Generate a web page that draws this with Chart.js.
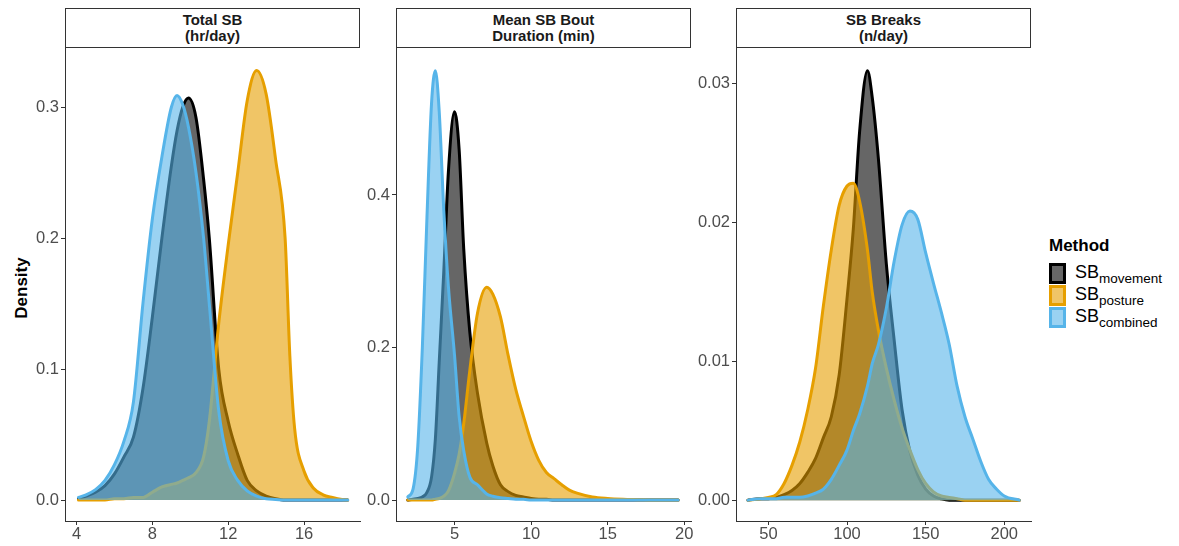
<!DOCTYPE html>
<html><head><meta charset="utf-8">
<script src="https://cdn.jsdelivr.net/npm/chart.js@4.4.1/dist/chart.umd.min.js"></script>
<style>
body{margin:0;background:#fff;width:1179px;height:546px;overflow:hidden;position:relative;font-family:"Liberation Sans",Arial,sans-serif;}
.strip{position:absolute;top:8px;height:40px;width:295px;box-sizing:border-box;border:1px solid #333;text-align:center;font-weight:bold;font-size:15px;line-height:16px;color:#1a1a1a;display:flex;flex-direction:column;justify-content:center;}
canvas{position:absolute;top:47px;}
#ytitle{position:absolute;left:22px;top:288px;transform:translate(-50%,-50%) rotate(-90deg);font-weight:bold;font-size:17px;color:#000;white-space:nowrap;}
#legend{position:absolute;left:1045px;top:236px;color:#000;}
#legend .ttl{position:absolute;left:4px;top:0;font-weight:bold;font-size:17px;white-space:nowrap;}
.key{position:absolute;left:4px;width:17px;height:21px;box-sizing:border-box;border:3px solid;}
.lab{position:absolute;left:30px;font-size:18px;white-space:nowrap;}
.lab sub{font-size:13.5px;vertical-align:-5px;line-height:0;}
</style></head>
<body>
<div class="strip" style="left:65px"><div>Total SB</div><div>(hr/day)</div></div>
<div class="strip" style="left:396px"><div>Mean SB Bout</div><div>Duration (min)</div></div>
<div class="strip" style="left:736px"><div>SB Breaks</div><div>(n/day)</div></div>
<div id="ytitle">Density</div>
<canvas id="c1" width="374" height="499" style="left:0px"></canvas>
<canvas id="c2" width="345" height="499" style="left:360px"></canvas>
<canvas id="c3" width="355" height="499" style="left:690px"></canvas>
<div id="legend">
  <div class="ttl">Method</div>
  <div class="key" style="top:27px;border-color:#000;background:rgba(0,0,0,0.6)"></div>
  <div class="lab" style="top:26px">SB<sub>movement</sub></div>
  <div class="key" style="top:49px;border-color:#E69F00;background:rgba(230,159,0,0.6)"></div>
  <div class="lab" style="top:48px">SB<sub>posture</sub></div>
  <div class="key" style="top:71px;border-color:#56B4E9;background:rgba(86,180,233,0.6)"></div>
  <div class="lab" style="top:70px">SB<sub>combined</sub></div>
</div>
<script>
// ---------- Panel 1: Total SB (hr/day) ----------
const totalX = [4.1,4.5,5,5.5,6,6.5,7,7.5,8,8.5,9,9.3,9.6,9.9,10.3,10.7,11,11.5,12,12.5,13,13.5,14,14.5,15,15.25,15.5,16,16.5,17,17.5,18,18.3];
const totalMovement = [0.001,0.003,0.006,0.011,0.02,0.033,0.048,0.085,0.14,0.2,0.255,0.282,0.3,0.307,0.292,0.245,0.2,0.1,0.06,0.035,0.015,0.007,0.003,0.001,0,0,0,0,0,0,0,0,0];
const totalPosture  = [0,0,0,0,0.001,0.001,0.002,0.002,0.006,0.01,0.012,0.013,0.015,0.017,0.021,0.033,0.06,0.135,0.195,0.25,0.305,0.328,0.31,0.26,0.2,0.11,0.055,0.022,0.009,0.004,0.002,0.0005,0];
const totalCombined = [0.002,0.004,0.008,0.015,0.027,0.045,0.075,0.15,0.215,0.262,0.3,0.309,0.302,0.285,0.25,0.2,0.15,0.068,0.03,0.015,0.007,0.003,0.001,0.0005,0,0,0,0,0,0,0,0,0];
const totalXTicks = [4,8,12,16];
const totalYTicks = [0,0.1,0.2,0.3];

// ---------- Panel 2: Mean SB Bout Duration (min) ----------
const boutX = [1.95,2.3,2.6,2.9,3.2,3.5,3.75,4.0,4.3,4.6,5.0,5.3,5.6,6.0,6.5,7.1,7.5,8.0,8.5,9.0,9.5,10.0,10.5,11.0,11.5,12.0,12.5,13.0,14,15,16,17,18,19.6];
const boutMovement = [0,0.001,0.002,0.004,0.01,0.03,0.08,0.18,0.3,0.43,0.509,0.46,0.33,0.22,0.14,0.075,0.045,0.02,0.011,0.006,0.004,0.002,0.001,0.001,0,0,0,0,0,0,0,0,0,0];
const boutPosture  = [0,0,0,0,0,0,0.001,0.002,0.005,0.012,0.035,0.06,0.1,0.17,0.245,0.279,0.27,0.24,0.19,0.145,0.11,0.077,0.052,0.036,0.028,0.02,0.013,0.009,0.004,0.002,0.001,0.0005,0,0];
const boutCombined = [0.004,0.015,0.07,0.2,0.37,0.52,0.563,0.51,0.38,0.28,0.19,0.11,0.065,0.03,0.02,0.008,0.005,0.003,0.002,0.001,0.001,0,0,0,0,0,0,0,0,0,0,0,0,0];
const boutXTicks = [5,10,15,20];
const boutYTicks = [0,0.2,0.4];

// ---------- Panel 3: SB Breaks (n/day) ----------
const breaksX = [37,45,50,55,60,65,70,75,80,85,90,95,100,104,108,113,116,120,125,130,135,140,145,150,155,160,165,170,175,180,185,190,195,200,209.5];
const breaksMovement = [0,0.0001,0.0001,0.0002,0.0004,0.0007,0.0012,0.002,0.003,0.0045,0.006,0.009,0.0145,0.0195,0.0265,0.0309,0.029,0.0245,0.017,0.0115,0.0065,0.0035,0.0018,0.0008,0.0003,0.0001,0,0,0,0,0,0,0,0,0];
const breaksPosture  = [0,0.0001,0.0002,0.0004,0.0012,0.0025,0.0042,0.0065,0.0095,0.014,0.018,0.0212,0.0226,0.0228,0.0215,0.018,0.015,0.0122,0.0095,0.0072,0.0052,0.0036,0.0022,0.0012,0.0006,0.0003,0.0002,0.0001,0,0,0,0,0,0,0];
const breaksCombined = [0,0.0001,0.0001,0.0001,0.0002,0.0002,0.0002,0.0003,0.0005,0.0008,0.0015,0.0025,0.0036,0.005,0.0062,0.0082,0.0098,0.0112,0.0138,0.0172,0.0198,0.0208,0.0202,0.0178,0.0156,0.0135,0.0112,0.0082,0.006,0.0044,0.0028,0.0015,0.0008,0.0003,0];
const breaksXTicks = [50,100,150,200];
const breaksYTicks = [0,0.01,0.02,0.03];

const methods = ['SBmovement','SBposture','SBcombined'];
const lineColors = ['#000000','#E69F00','#56B4E9'];
const fillColors = ['rgba(0,0,0,0.6)','rgba(230,159,0,0.6)','rgba(86,180,233,0.6)'];

function pts(xs, ys){ return xs.map((x,i)=>({x:x, y:ys[i]})); }

function makePanel(id, xs, series, xr, yr, xTicks, yTicks, dec, yW){
  new Chart(document.getElementById(id), {
    type:'line',
    data:{datasets: series.map((ys,i)=>({
      label: methods[i],
      data: pts(xs, ys),
      borderColor: lineColors[i],
      backgroundColor: fillColors[i],
      borderWidth: 3,
      fill: 'origin',
      pointRadius: 0,
      cubicInterpolationMode: 'monotone',
      borderJoinStyle: 'round',
      borderCapStyle: 'round',
      order: 3 - i
    }))},
    options:{
      responsive:false, animation:false, devicePixelRatio:1,
      layout:{padding:{left:0, top:0, bottom:0, right:14}},
      plugins:{legend:{display:false}, tooltip:{enabled:false}},
      scales:{
        x:{type:'linear', min:xr[0], max:xr[1],
          afterBuildTicks: s => { s.ticks = xTicks.map(v=>({value:v})); },
          afterFit: s => { s.height = 25; s.paddingLeft = 0; s.paddingRight = 0; },
          grid:{display:true, drawOnChartArea:false, drawTicks:true, tickLength:4, color:'#333', lineWidth:1},
          border:{display:true, color:'#333', width:1},
          ticks:{padding:0, color:'#4d4d4d', font:{family:'"Liberation Sans", Arial', size:16.5}, maxRotation:0, autoSkip:false,
                 callback: v => String(v)}
        },
        y:{type:'linear', min:yr[0], max:yr[1],
          afterBuildTicks: s => { s.ticks = yTicks.map(v=>({value:v})); },
          afterFit: s => { s.width = yW; s.paddingTop = 0; s.paddingBottom = 0; },
          grid:{display:true, drawOnChartArea:false, drawTicks:true, tickLength:4, color:'#333', lineWidth:1},
          border:{display:true, color:'#333', width:1},
          ticks:{padding:2, color:'#4d4d4d', font:{family:'"Liberation Sans", Arial', size:16.5}, autoSkip:false,
                 callback: v => Number(v).toFixed(dec)}
        }
      }
    }
  });
}

makePanel('c1', totalX, [totalMovement, totalPosture, totalCombined], [3.39,18.95], [-0.016,0.346], totalXTicks, totalYTicks, 1, 65);
makePanel('c2', boutX, [boutMovement, boutPosture, boutCombined], [1.18,20.44], [-0.0275,0.594], boutXTicks, boutYTicks, 1, 36);
makePanel('c3', breaksX, [breaksMovement, breaksPosture, breaksCombined], [29.4,217], [-0.0015,0.0326], breaksXTicks, breaksYTicks, 2, 46);
</script>
</body></html>
